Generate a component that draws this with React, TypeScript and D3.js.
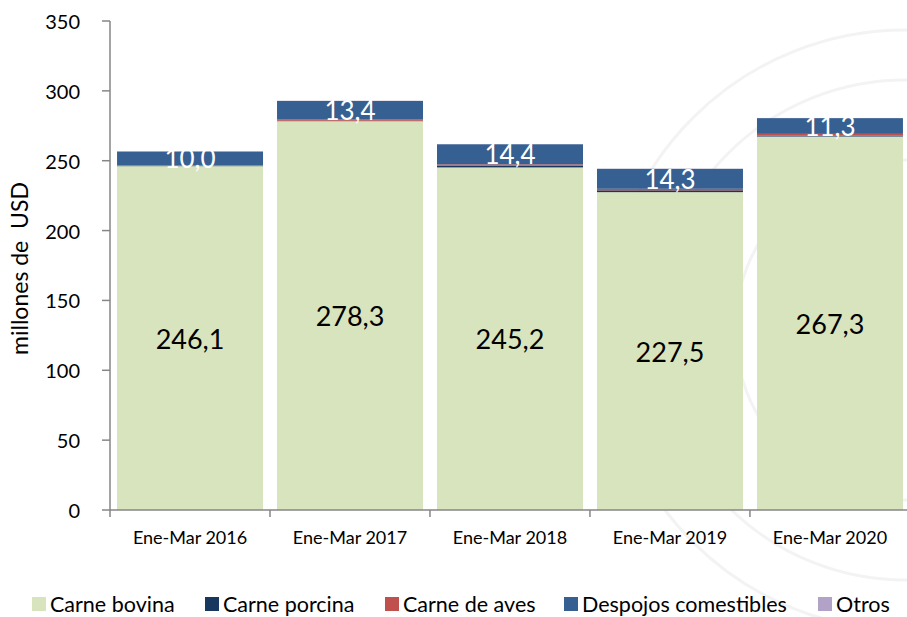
import React from "react";
import * as d3 from "d3";

const categories = ["Ene-Mar 2016", "Ene-Mar 2017", "Ene-Mar 2018", "Ene-Mar 2019", "Ene-Mar 2020"];
const seriesNames = ["Carne bovina", "Carne porcina", "Carne de aves", "Despojos comestibles", "Otros"];
const bovina = [246.1, 278.3, 245.2, 227.5, 267.3];
const porcina = [0.2, 0.3, 1.2, 1.3, 0.7];
const aves = [0.3, 0.8, 1.0, 1.1, 1.2];
const despojos = [10.0, 13.4, 14.4, 14.3, 11.3];
const otros = [0.1, 0.1, 0.1, 0.1, 0.1];
const yTicks = [0, 50, 100, 150, 200, 250, 300, 350];
const colors = ["#d7e4bd", "#17375e", "#c0504d", "#376092", "#b3a2c7"];

const W = 907;
const H = 617;
const margin = { top: 21, right: -3, bottom: 107, left: 110 };
const font = "Lato, 'Open Sans', sans-serif";

export default function App() {
  const rows = categories.map((c, i) => ({
    cat: c,
    s0: bovina[i],
    s1: porcina[i],
    s2: aves[i],
    s3: despojos[i],
    s4: otros[i],
  }));
  const keys = ["s0", "s1", "s2", "s3", "s4"];
  const stacked = d3.stack<any>().keys(keys)(rows);

  const x = d3
    .scaleBand()
    .domain(categories)
    .range([margin.left, W - margin.right])
    .paddingInner(0.0875)
    .paddingOuter(0.044);
  const y = d3.scaleLinear().domain([0, 350]).range([H - margin.bottom, margin.top]);
  const y0 = y(0);
  const step = x.step();

  const legendX = [32, 205, 385, 564, 818];

  return (
    <div style={{ position: "absolute", left: 0, top: 0 }}>
      <svg width={W} height={H} style={{ display: "block", background: "#fff" }}>
        {/* faint watermark seal */}
        <g fill="none" stroke="#f3f3f3" strokeWidth={3}>
          <circle cx={905} cy={330} r={300} />
          <circle cx={905} cy={330} r={250} />
          <circle cx={905} cy={330} r={170} />
        </g>

        {stacked.map((layer, li) =>
          layer.map((d, i) => (
            <rect
              key={`${li}-${i}`}
              x={x(categories[i])}
              y={y(d[1])}
              width={x.bandwidth()}
              height={Math.max(0, y(d[0]) - y(d[1]))}
              fill={colors[li]}
            />
          ))
        )}

        {/* data labels */}
        {rows.map((r, i) => (
          <text
            key={`lb-${i}`}
            x={(x(r.cat) as number) + x.bandwidth() / 2}
            y={y(bovina[i] / 2)}
            textAnchor="middle"
            dominantBaseline="central"
            fontFamily={font}
            fontSize={27}
            fill="#000"
          >
            {bovina[i].toFixed(1).replace(".", ",")}
          </text>
        ))}
        {stacked[3].map((d, i) => (
          <text
            key={`ld-${i}`}
            x={(x(categories[i]) as number) + x.bandwidth() / 2}
            y={y((d[0] + d[1]) / 2)}
            textAnchor="middle"
            dominantBaseline="central"
            fontFamily={font}
            fontSize={26}
            fill="#fff"
          >
            {despojos[i].toFixed(1).replace(".", ",")}
          </text>
        ))}

        {/* y axis */}
        <line x1={margin.left} x2={margin.left} y1={y(350)} y2={y0} stroke="#868686" strokeWidth={1.5} />
        {yTicks.map((t) => (
          <g key={t}>
            <line x1={margin.left - 8} x2={margin.left} y1={y(t)} y2={y(t)} stroke="#868686" strokeWidth={1.5} />
            <text
              x={margin.left - 30}
              y={y(t)}
              textAnchor="end"
              dominantBaseline="central"
              fontFamily={font}
              fontSize={20}
              fill="#000"
            >
              {t}
            </text>
          </g>
        ))}

        {/* x axis */}
        <line x1={margin.left} x2={W} y1={y0} y2={y0} stroke="#868686" strokeWidth={1.5} />
        {categories.map((c, i) => (
          <g key={c}>
            <line
              x1={margin.left + i * step}
              x2={margin.left + i * step}
              y1={y0}
              y2={y0 + 7}
              stroke="#868686"
              strokeWidth={1.5}
            />
            <text
              x={(x(c) as number) + x.bandwidth() / 2}
              y={y0 + 27}
              textAnchor="middle"
              dominantBaseline="central"
              fontFamily={font}
              fontSize={18}
              fill="#000"
            >
              {c}
            </text>
          </g>
        ))}

        {/* y axis title */}
        <text
          transform={`translate(19, ${y(175) + 3}) rotate(-90)`}
          textAnchor="middle"
          dominantBaseline="central"
          fontFamily={font}
          fontSize={23}
          fill="#000"
          style={{ whiteSpace: "pre" }}
        >
          {"millones de  USD"}
        </text>

        {/* legend */}
        {seriesNames.map((n, i) => (
          <g key={n}>
            <rect x={legendX[i]} y={597} width={14} height={14} fill={colors[i]} />
            <text
              x={legendX[i] + 18}
              y={604}
              dominantBaseline="central"
              fontFamily={font}
              fontSize={21.5}
              fill="#000"
            >
              {n}
            </text>
          </g>
        ))}
      </svg>
    </div>
  );
}
